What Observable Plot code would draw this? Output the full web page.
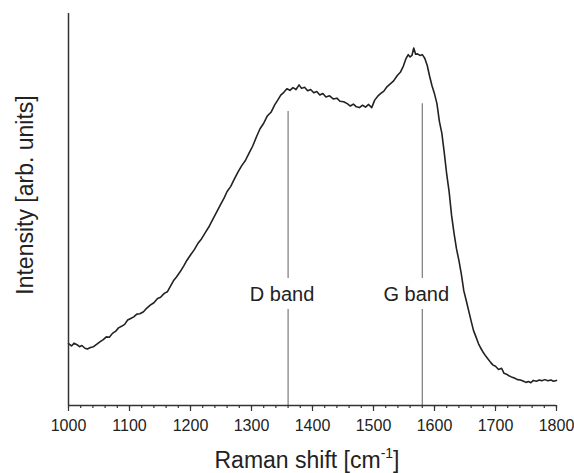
<!DOCTYPE html>
<html>
<head>
<meta charset="utf-8">
<script src="https://cdn.jsdelivr.net/npm/d3@7"></script>
<script src="https://cdn.jsdelivr.net/npm/@observablehq/plot@0.6"></script>
<style>
  html, body { margin: 0; padding: 0; background: #fff; }
  svg { display: block; }
</style>
</head>
<body>
<div id="chart"></div>
<script>
// Raman shift (cm^-1)
const shift = [
  1000,1005,1009,1014,1018,1022,1027,1031,1036,1041,1046,1052,1057,1062,1067,1072,1077,1082,1087,1092,
  1097,1102,1107,1112,1117,1123,1128,1134,1140,1146,1151,1157,1162,1167,1172,1177,1183,1189,1194,1200,
  1206,1212,1218,1225,1231,1237,1243,1249,1255,1260,1266,1272,1278,1284,1290,1296,1302,1308,1314,1320,
  1326,1332,1338,1343,1348,1353,1358,1363,1368,1373,1378,1382,1387,1392,1397,1402,1407,1412,1417,1422,
  1428,1434,1440,1445,1451,1457,1462,1467,1472,1477,1482,1487,1492,1497,1502,1507,1512,1517,1522,1528,
  1533,1539,1544,1549,1553,1557,1560,1563,1566,1569,1572,1576,1580,1584,1588,1592,1596,1600,1604,1608,
  1612,1616,1620,1624,1628,1632,1636,1640,1644,1648,1652,1656,1660,1664,1668,1672,1676,1680,1684,1688,
  1692,1696,1700,1705,1710,1714,1718,1722,1726,1731,1736,1741,1746,1750,1754,1758,1762,1767,1772,1776,
  1781,1786,1791,1795,1800
];
// Intensity (arb. units)
const intensity = [
  15.8,15.2,15.9,15.5,15.0,15.3,14.6,14.4,14.8,15.0,15.6,16.3,16.8,17.5,17.4,18.4,18.9,19.8,20.2,20.7,
  21.8,22.2,22.6,23.3,23.4,23.9,24.8,25.6,26.2,27.3,27.6,28.6,29.0,30.4,31.8,32.8,34.1,35.6,37.0,38.4,
  39.7,41.3,42.5,44.3,45.8,47.6,49.4,51.2,52.9,54.6,55.9,57.8,59.6,61.2,62.5,64.4,66.2,68.5,70.6,72.0,
  73.9,74.8,76.7,77.9,79.2,79.9,80.8,80.4,81.1,80.6,81.8,80.9,81.2,80.3,80.6,79.8,80.1,79.2,79.6,78.7,
  79.0,78.2,78.4,77.6,77.5,77.0,76.4,76.9,76.2,76.0,76.6,76.1,76.8,76.0,77.9,78.9,79.6,80.2,81.3,82.1,
  82.8,84.2,85.0,86.6,88.4,89.5,88.9,89.3,91.2,89.6,89.7,89.3,89.5,88.6,86.8,84.0,81.5,79.5,77.0,72.5,
  69.5,64.5,59.0,54.5,48.5,44.0,40.0,37.0,33.5,29.3,26.8,24.2,21.6,19.1,17.5,15.8,14.6,13.5,12.6,11.8,
  11.0,10.3,10.0,9.2,9.5,8.2,8.0,7.6,7.3,7.0,6.6,6.5,6.2,5.9,6.1,5.8,6.4,6.2,6.5,6.3,
  6.6,6.3,6.5,6.2,6.4
];

// band markers
const bandNames = ["D band", "G band"];
const bandShift = [1360, 1580];
const bandTop = [75.0, 77.0];
const labelGapTop = [32.4, 32.4];
const labelGapBottom = [24.5, 24.5];
const labelY = [28.3, 28.3];

const majorTicks = d3.range(1000, 1801, 100);
const minorTicks = d3.range(1000, 1801, 20);

const spectrum = shift.map((x, i) => ({x, y: intensity[i]}));
const bandSegments = [];
bandNames.forEach((n, i) => {
  bandSegments.push({x: bandShift[i], y1: labelGapTop[i], y2: bandTop[i]});
  bandSegments.push({x: bandShift[i], y1: 0, y2: labelGapBottom[i]});
});
const bandLabels = bandNames.map((n, i) => ({x: bandShift[i], y: labelY[i], text: n}));

const font = "'Liberation Sans', Arial, Helvetica, sans-serif";

const chart = Plot.plot({
  width: 574,
  height: 473,
  marginLeft: 68,
  marginRight: 18,
  marginTop: 13,
  marginBottom: 68,
  style: {fontFamily: font, color: "#222", background: "#fff"},
  x: {domain: [1000, 1800]},
  y: {domain: [0, 100], axis: null},
  marks: [
    Plot.ruleX(bandSegments, {x: "x", y1: "y1", y2: "y2", stroke: "#7a7a7a", strokeWidth: 1.2}),
    Plot.text(bandLabels, {x: "x", y: "y", text: "text", fontSize: 20, dx: -6, fill: "#222"}),
    Plot.line(spectrum, {x: "x", y: "y", stroke: "#222", strokeWidth: 1.6}),
    Plot.axisX(minorTicks, {tickSize: 3, tickFormat: () => "", label: null, stroke: "#333", strokeWidth: 1.2}),
    Plot.axisX(majorTicks, {tickSize: 6, tickPadding: 8, fontSize: 16, tickFormat: d3.format("d"), label: null, stroke: "#333", strokeWidth: 1.2, fill: "#222"}),
    Plot.ruleY([0], {stroke: "#333", strokeWidth: 1.5}),
    Plot.ruleX([1000], {stroke: "#333", strokeWidth: 1.5})
  ]
});

document.getElementById("chart").appendChild(chart);

const svg = d3.select(chart);
const xt = svg.append("text")
  .attr("x", 307).attr("y", 468)
  .attr("text-anchor", "middle")
  .attr("font-family", font)
  .attr("font-size", 23)
  .attr("fill", "#222");
xt.append("tspan").text("Raman shift [cm");
xt.append("tspan").attr("font-size", 14).attr("dy", -10).text("-1");
xt.append("tspan").attr("dy", 10).text("]");

svg.append("text")
  .attr("transform", "translate(33,195) rotate(-90)")
  .attr("text-anchor", "middle")
  .attr("font-family", font)
  .attr("font-size", 23)
  .attr("fill", "#222")
  .text("Intensity [arb. units]");
</script>
</body>
</html>
